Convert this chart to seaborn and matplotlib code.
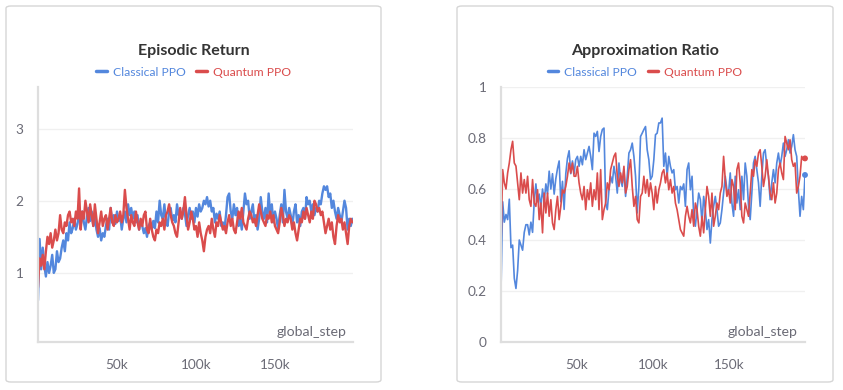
import numpy as np
import pandas as pd
import matplotlib
matplotlib.use("Agg")
import matplotlib.pyplot as plt
import seaborn as sns
from matplotlib.patches import FancyBboxPatch
from matplotlib.lines import Line2D

# ---------------- data ----------------
series_names = ["Classical PPO", "Quantum PPO"]
series_colors = ["#5387DD", "#DA4C4C"]

panel_titles = ["Episodic Return", "Approximation Ratio"]
x_label = "global_step"
x_ticks = [50000, 100000, 150000]
x_tick_labels = ["50k", "100k", "150k"]
ret_yticks = [1, 2, 3]
ret_ytick_labels = ["1", "2", "3"]
ratio_yticks = [0, 0.2, 0.4, 0.6, 0.8, 1.0]
ratio_ytick_labels = ["0", "0.2", "0.4", "0.6", "0.8", "1"]

ret_classical = [
    0.62, 1.47, 1.05, 1.35, 1.10, 0.95, 1.15, 1.00, 1.10, 1.25,
    1.00, 1.05, 1.30, 1.15, 1.20, 1.35, 1.45, 1.30, 1.55, 1.45,
    1.70, 1.55, 1.62, 1.75, 1.60, 1.68, 1.82, 1.65, 1.85, 1.70,
    1.60, 1.78, 1.90, 1.72, 1.85, 1.65, 1.78, 1.60, 1.50, 1.62,
    1.45, 1.55, 1.50, 1.65, 1.75, 1.60, 1.90, 1.70, 1.80, 1.68,
    1.85, 1.72, 1.80, 1.60, 1.75, 1.85, 1.70, 1.95, 1.80, 1.90,
    1.75, 1.85, 1.70, 1.80, 1.60, 1.72, 1.65, 1.55, 1.62, 1.50,
    1.65, 1.70, 1.60, 1.72, 1.62, 1.85, 1.70, 2.00, 1.80, 1.75,
    1.95, 1.70, 1.65, 1.85, 1.90, 1.72, 1.80, 1.70, 1.95, 1.80,
    1.85, 1.75, 1.90, 1.82, 1.65, 1.80, 1.90, 1.75, 1.85, 1.70,
    1.90, 1.78, 1.95, 1.85, 1.90, 2.00, 1.95, 2.05, 1.92, 2.00,
    1.85, 1.90, 1.70, 1.82, 1.75, 1.85, 1.65, 1.70, 1.60, 1.80,
    2.05, 2.10, 1.85, 1.75, 1.95, 1.80, 1.90, 1.65, 1.75, 1.60,
    1.85, 2.10, 1.95, 2.00, 1.75, 1.85, 1.95, 1.70, 1.80, 1.60,
    1.75, 2.05, 1.85, 1.75, 1.90, 1.70, 2.10, 1.80, 1.95, 1.70,
    1.85, 1.75, 1.60, 1.80, 1.95, 1.70, 2.15, 1.85, 1.75, 1.90,
    1.80, 1.65, 1.85, 1.95, 1.70, 1.80, 1.65, 1.85, 1.90, 1.75,
    2.05, 1.95, 2.00, 1.85, 1.95, 1.80, 1.90, 1.85, 2.00, 1.95,
    2.10, 2.20, 2.15, 2.20, 2.05, 2.10, 1.90, 2.00, 1.85, 1.75,
    1.90, 1.80, 1.70, 1.85, 2.00, 1.90, 1.60, 1.75, 1.65, 1.75,
]
ret_quantum = [
    0.80, 1.20, 1.10, 1.25, 1.05, 1.30, 1.50, 1.40, 1.55, 1.35,
    1.45, 1.60, 1.45, 1.55, 1.80, 1.60, 1.55, 1.70, 1.65, 1.80,
    1.85, 1.70, 1.75, 1.65, 1.85, 1.75, 2.17, 1.60, 1.85, 1.75,
    2.00, 1.85, 1.70, 1.95, 1.80, 1.65, 1.95, 1.75, 1.55, 1.70,
    1.85, 1.65, 1.75, 1.80, 1.60, 1.75, 1.90, 1.70, 1.65, 1.80,
    1.70, 1.75, 1.85, 1.70, 1.80, 2.15, 1.90, 1.75, 1.60, 1.80,
    1.70, 1.65, 1.85, 1.70, 1.60, 1.75, 1.65, 1.80, 1.85, 1.60,
    1.55, 1.75, 1.60, 1.50, 1.45, 1.60, 1.55, 1.70, 1.65, 1.75,
    1.60, 1.80, 1.85, 1.95, 1.80, 1.70, 1.65, 1.55, 1.50, 1.70,
    1.90, 1.75, 1.85, 2.05, 1.80, 1.60, 1.70, 1.85, 1.75, 1.60,
    1.65, 1.50, 1.70, 1.55, 1.45, 1.30, 1.50, 1.60, 1.65, 1.55,
    1.75, 1.60, 1.50, 1.70, 1.65, 1.80, 1.70, 1.60, 1.65, 1.55,
    1.70, 1.80, 1.65, 1.75, 1.60, 1.55, 1.70, 1.85, 1.75, 1.90,
    1.70, 1.65, 1.60, 1.75, 1.85, 1.80, 1.70, 1.75, 1.65, 1.80,
    1.95, 1.85, 1.75, 1.70, 1.65, 1.80, 1.75, 1.85, 1.70, 1.80,
    1.65, 1.60, 1.55, 1.70, 1.90, 1.80, 1.65, 1.75, 1.70, 1.80,
    1.75, 1.60, 1.70, 1.55, 1.45, 1.60, 1.75, 1.70, 1.85, 1.75,
    1.90, 1.80, 1.70, 1.85, 1.75, 2.00, 1.95, 1.85, 1.90, 1.80,
    1.85, 1.70, 1.55, 1.65, 1.75, 1.60, 1.70, 1.50, 1.40, 1.65,
    1.80, 1.70, 1.75, 1.60, 1.70, 1.55, 1.40, 1.65, 1.75, 1.70,
]

ratio_classical = [
    0.200, 0.550, 0.470, 0.500, 0.480, 0.560, 0.370, 0.380, 0.250, 0.210,
    0.280, 0.400, 0.380, 0.360, 0.430, 0.460, 0.460, 0.420, 0.470, 0.430,
    0.550, 0.620, 0.550, 0.580, 0.530, 0.600, 0.550, 0.620, 0.580, 0.670,
    0.600, 0.660, 0.580, 0.640, 0.680, 0.710, 0.550, 0.630, 0.520, 0.660,
    0.720, 0.750, 0.660, 0.710, 0.660,
    0.715, 0.728, 0.689, 0.728, 0.695, 0.754, 0.715, 0.741, 0.767, 0.728,
    0.676, 0.819, 0.806, 0.826, 0.747, 0.806, 0.833, 0.839, 0.545, 0.519,
    0.597, 0.650, 0.624, 0.689, 0.650, 0.584, 0.702, 0.637, 0.610, 0.676,
    0.571, 0.650, 0.741, 0.754, 0.780, 0.728, 0.650, 0.506, 0.610, 0.806,
    0.819, 0.833, 0.845, 0.754, 0.715, 0.637,
    0.650, 0.715, 0.813, 0.819, 0.859, 0.859, 0.878, 0.689, 0.741, 0.650,
    0.728, 0.689, 0.663, 0.676, 0.597, 0.610, 0.545, 0.610, 0.597, 0.620,
    0.532, 0.676, 0.702, 0.597, 0.650, 0.493, 0.454, 0.519, 0.584, 0.558,
    0.467, 0.571, 0.519, 0.441, 0.480, 0.388, 0.480, 0.532, 0.571, 0.519,
    0.454, 0.467, 0.519, 0.584, 0.650, 0.597,
    0.584, 0.663, 0.545, 0.493, 0.650, 0.545, 0.597, 0.519, 0.650, 0.558,
    0.702, 0.650, 0.532, 0.480, 0.584, 0.702, 0.728, 0.676, 0.624, 0.532,
    0.650, 0.741, 0.754, 0.689, 0.650, 0.558, 0.624, 0.676, 0.624, 0.702,
    0.741, 0.689, 0.728, 0.780, 0.728, 0.754, 0.793, 0.741, 0.767, 0.813,
    0.754, 0.728, 0.597, 0.493, 0.571, 0.519, 0.655,
]
ratio_quantum = [
    0.375, 0.676, 0.624, 0.600, 0.663, 0.702, 0.754, 0.787, 0.702, 0.690,
    0.624, 0.558, 0.663, 0.584, 0.637, 0.584, 0.650, 0.558, 0.532, 0.637,
    0.545, 0.532, 0.597, 0.480, 0.545, 0.428, 0.584, 0.506, 0.584, 0.493,
    0.558, 0.467, 0.441, 0.519, 0.571, 0.480, 0.532, 0.597, 0.584, 0.610,
    0.650, 0.702, 0.663, 0.702, 0.650,
    0.650, 0.689, 0.624, 0.584, 0.558, 0.610, 0.519, 0.597, 0.558, 0.624,
    0.532, 0.597, 0.558, 0.663, 0.519, 0.676, 0.480, 0.519, 0.545, 0.624,
    0.597, 0.676, 0.702, 0.728, 0.741, 0.650, 0.610, 0.663, 0.624, 0.689,
    0.584, 0.610, 0.676, 0.715, 0.610, 0.532, 0.571, 0.480, 0.467, 0.571,
    0.584, 0.650, 0.584, 0.637, 0.571, 0.624,
    0.584, 0.519, 0.610, 0.545, 0.597, 0.624, 0.663, 0.676, 0.624, 0.663,
    0.597, 0.637, 0.584, 0.610, 0.545, 0.519, 0.480, 0.441, 0.428, 0.415,
    0.493, 0.532, 0.493, 0.467, 0.519, 0.454, 0.545, 0.519, 0.454, 0.415,
    0.493, 0.428, 0.519, 0.610, 0.571, 0.493, 0.584, 0.454, 0.493, 0.545,
    0.519, 0.584, 0.610, 0.728, 0.637, 0.571,
    0.597, 0.545, 0.637, 0.610, 0.519, 0.676, 0.702, 0.624, 0.493, 0.467,
    0.545, 0.519, 0.493, 0.584, 0.676, 0.650, 0.715, 0.689, 0.741, 0.754,
    0.689, 0.610, 0.650, 0.715, 0.650, 0.584, 0.558, 0.624, 0.545, 0.584,
    0.676, 0.702, 0.663, 0.637, 0.806, 0.780, 0.754, 0.793, 0.715, 0.689,
    0.702, 0.584, 0.610, 0.650, 0.728, 0.715, 0.720,
]

# ---------------- style ----------------
sns.set_theme(style="white")
plt.rcParams["font.family"] = ["Lato", "DejaVu Sans"]

TICK_COLOR = "#6b6b76"
AXIS_COLOR = "#dedede"
GRID_COLOR = "#f0f0f0"
TITLE_COLOR = "#343434"
BORDER_COLOR = "#d6d6d6"

W, H = 843, 390
fig = plt.figure(figsize=(W / 100, H / 100), dpi=100)


def px_rect(x0, y0, x1, y1):
    """pixel box (top-left origin) -> figure fraction [l, b, w, h]"""
    return [x0 / W, (H - y1) / H, (x1 - x0) / W, (y1 - y0) / H]


def long_frame(a, b, xmax):
    rows = []
    for name, vals in zip(series_names, [a, b]):
        steps = np.linspace(0, xmax, len(vals))
        rows.append(pd.DataFrame({"global_step": steps, "value": vals, "run": name}))
    return pd.concat(rows, ignore_index=True)


panels = [
    dict(box=(6, 6, 381, 382), ax=(38, 87, 353, 342),
         df=long_frame(ret_classical, ret_quantum, 199000),
         xlim=(0, 199400), ylim=(0.043, 3.575),
         yt=ret_yticks, ytl=ret_ytick_labels, lw=1.7, end_dot=False,
         title=panel_titles[0]),
    dict(box=(457, 6, 833, 382), ax=(501, 87, 805, 342),
         df=long_frame(ratio_classical, ratio_quantum, 200000),
         xlim=(0, 200000), ylim=(0, 1),
         yt=ratio_yticks, ytl=ratio_ytick_labels, lw=1.2, end_dot=True,
         title=panel_titles[1]),
]

for p in panels:
    bx0, by0, bx1, by1 = p["box"]
    l, b, w, h = px_rect(bx0, by0, bx1, by1)
    fig.patches.append(FancyBboxPatch((l, b), w, h,
                                      boxstyle="round,pad=0,rounding_size=0.006",
                                      transform=fig.transFigure, facecolor="white",
                                      edgecolor=BORDER_COLOR, linewidth=1.0, zorder=-5))
    ax = fig.add_axes(px_rect(*p["ax"]))
    ax.set_facecolor("none")
    sns.lineplot(data=p["df"], x="global_step", y="value", hue="run",
                 palette=series_colors, hue_order=series_names,
                 estimator=None, sort=False, linewidth=p["lw"], legend=False, ax=ax)
    if p["end_dot"]:
        for name, col in zip(series_names, series_colors):
            d = p["df"][p["df"]["run"] == name].iloc[-1:]
            sns.scatterplot(data=d, x="global_step", y="value", color=col,
                            s=18, edgecolor="none", legend=False, ax=ax, zorder=5,
                            clip_on=False)
    ax.set_xlim(*p["xlim"])
    ax.set_ylim(*p["ylim"])
    ax.set_xticks(x_ticks)
    ax.set_xticklabels(x_tick_labels)
    ax.set_yticks(p["yt"])
    ax.set_yticklabels(p["ytl"])
    ax.set_xlabel("")
    ax.set_ylabel("")
    ax.yaxis.grid(True, color=GRID_COLOR, linewidth=1.0)
    ax.xaxis.grid(False)
    ax.set_axisbelow(True)
    for s in ["top", "right"]:
        ax.spines[s].set_visible(False)
    for s in ["left", "bottom"]:
        ax.spines[s].set_color(AXIS_COLOR)
        ax.spines[s].set_linewidth(1.6)
    ax.tick_params(axis="both", colors=AXIS_COLOR, labelcolor=TICK_COLOR,
                   labelsize=9.8, direction="inout", length=7, width=1.2)
    ax.tick_params(axis="x", pad=9)
    ax.tick_params(axis="y", pad=7)
    ax.text(1 - 7 / (p["ax"][2] - p["ax"][0]), 10 / (p["ax"][3] - p["ax"][1]), x_label,
            transform=ax.transAxes, ha="right", va="center", fontsize=10.2,
            color=TICK_COLOR)

    cx = (bx0 + bx1) / 2 / W
    fig.text(cx, (H - 51) / H, p["title"], ha="center", va="center",
             fontsize=11.5, fontweight="bold", color=TITLE_COLOR)
    handles = [Line2D([0], [0], color=c, lw=2.5) for c in series_colors]
    fig.legend(handles, series_names, loc="center", bbox_to_anchor=(cx, (H - 72) / H),
               ncol=2, frameon=False, fontsize=8.7, handlelength=0.85,
               handletextpad=0.5, columnspacing=0.9, labelcolor=series_colors,
               borderaxespad=0, borderpad=0)

fig.savefig("out.png", dpi=100, facecolor="white")
